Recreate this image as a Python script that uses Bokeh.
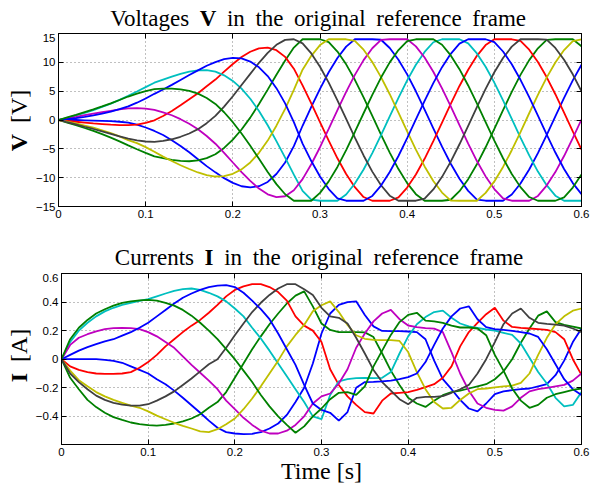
from bokeh.plotting import figure
from bokeh.models import LinearAxis, FixedTicker, Range1d, Div
from bokeh.layouts import column, row
from bokeh.embed import file_html
from bokeh.resources import INLINE

# ---------------- data ----------------
t_s = [0.00, 0.01, 0.02, 0.03, 0.04, 0.05, 0.06, 0.07, 0.08, 0.09,
       0.10, 0.11, 0.12, 0.13, 0.14, 0.15, 0.16, 0.17, 0.18, 0.19,
       0.20, 0.21, 0.22, 0.23, 0.24, 0.25, 0.26, 0.27, 0.28, 0.29,
       0.30, 0.31, 0.32, 0.33, 0.34, 0.35, 0.36, 0.37, 0.38, 0.39,
       0.40, 0.41, 0.42, 0.43, 0.44, 0.45, 0.46, 0.47, 0.48, 0.49,
       0.50, 0.51, 0.52, 0.53, 0.54, 0.55, 0.56, 0.57, 0.58, 0.59, 0.60]

# Voltages [V], one list per phase
v_blue_b = [0, 0.00, 0.00, -0.05, -0.10, -0.15, -0.20, -0.30, -0.45, -0.80, -1.30, -1.90, -2.60, -3.50, -4.50, -5.60, -6.80, -8.00, -9.08, -10.08, -10.90, -11.49, -11.69, -11.48, -10.74, -9.37, -7.37, -4.54, -1.00, 2.26, 5.40, 8.28, 10.76, 12.72, 14, 14, 14, 13.92, 12.49, 10.45, 7.91, 4.98, 1.81, -1.44, -4.63, -7.59, -10.19, -12.29, -13.79, -14, -14, -14, -12.91, -11.02, -8.59, -5.75, -2.63, 0.62, 3.84, 6.87, 9.57]
v_green_b = [0, -0.44, -0.89, -1.39, -1.89, -2.45, -3.05, -3.70, -4.40, -5.07, -5.71, -6.30, -6.62, -6.91, -7.08, -7.15, -7.01, -6.62, -5.94, -4.84, -3.40, -1.65, 0.41, 2.76, 5.27, 7.86, 10.33, 12.56, 14, 14, 14, 13.52, 11.87, 9.65, 6.97, 3.94, 0.73, -2.52, -5.65, -8.51, -10.95, -12.86, -14, -14, -14, -13.83, -12.34, -10.26, -7.68, -4.73, -1.55, 1.71, 4.88, 7.82, 10.38, 12.43, 13.89, 14, 14, 14, 12.78]
v_red = [0, -0.15, -0.30, -0.45, -0.60, -0.70, -0.80, -0.88, -0.90, -0.80, -0.50, -0.05, 0.70, 1.55, 2.55, 3.60, 4.65, 5.85, 7.01, 8.39, 9.71, 10.92, 11.84, 12.43, 12.56, 12.11, 10.95, 8.90, 5.99, 2.88, -0.36, -3.59, -6.64, -9.37, -11.65, -13.36, -14, -14, -14, -13.41, -11.71, -9.45, -6.73, -3.68, -0.46, 2.79, 5.90, 8.72, 11.13, 12.99, 14, 14, 14, 13.73, 12.19, 10.06, 7.45, 4.47, 1.28, -1.98, -5.13]
v_cyan = [0, 0.39, 0.79, 1.25, 1.72, 2.25, 2.84, 3.49, 4.20, 4.95, 5.71, 6.47, 7.00, 7.53, 8.01, 8.39, 8.60, 8.63, 8.38, 7.75, 6.78, 5.44, 3.69, 1.56, -0.91, -3.66, -6.52, -9.48, -12.29, -13.80, -14, -14, -14, -12.91, -11.02, -8.59, -5.74, -2.62, 0.63, 3.85, 6.88, 9.57, 11.81, 13.48, 14, 14, 14, 13.29, 11.54, 9.24, 6.49, 3.42, 0.19, -3.05, -6.14, -8.94, -11.30, -13.12, -14, -14, -14]
v_magenta = [0, 0.28, 0.55, 0.83, 1.09, 1.35, 1.59, 1.83, 2.03, 2.07, 1.98, 1.76, 1.33, 0.82, 0.14, -0.65, -1.59, -2.78, -4.11, -5.70, -7.37, -9.03, -10.56, -11.89, -12.89, -13.38, -13.22, -12.19, -10.25, -7.67, -4.72, -1.54, 1.72, 4.89, 7.82, 10.38, 12.44, 13.89, 14, 14, 14, 12.77, 10.83, 8.36, 5.49, 2.35, -0.90, -4.11, -7.12, -9.78, -11.97, -13.59, -14, -14, -14, -13.17, -11.37, -9.03, -6.25, -3.16, 0.08]
v_yellow = [0, -0.30, -0.60, -0.96, -1.34, -1.78, -2.28, -2.85, -3.49, -4.00, -4.70, -5.50, -6.35, -7.10, -7.85, -8.50, -9.10, -9.55, -9.80, -9.73, -9.33, -8.57, -7.36, -5.69, -3.57, -0.99, 1.93, 5.24, 8.72, 11.13, 12.99, 14, 14, 14, 13.73, 12.19, 10.06, 7.44, 4.47, 1.27, -1.98, -5.14, -8.05, -10.57, -12.58, -13.98, -14, -14, -14, -12.64, -10.65, -8.14, -5.24, -2.09, 1.17, 4.36, 7.35, 9.98, 12.13, 13.69, 14]
v_gray = [0, -0.39, -0.76, -1.17, -1.56, -1.96, -2.39, -2.82, -3.24, -3.54, -3.73, -3.79, -3.61, -3.34, -2.91, -2.34, -1.59, -0.55, 0.71, 2.32, 4.12, 6.06, 8.00, 9.92, 11.64, 13.04, 13.89, 14, 13.29, 11.54, 9.24, 6.48, 3.41, 0.18, -3.06, -6.15, -8.95, -11.31, -13.12, -14, -14, -14, -13.63, -12.04, -9.86, -7.21, -4.21, -1.00, 2.25, 5.39, 8.28, 10.76, 12.72, 14, 14, 14, 13.93, 12.50, 10.46, 7.92, 4.99]
v_blue_a = [0, 0.16, 0.34, 0.56, 0.80, 1.10, 1.46, 1.87, 2.36, 3.00, 3.73, 4.54, 5.28, 6.09, 6.95, 7.80, 8.60, 9.40, 10.04, 10.54, 10.77, 10.67, 10.14, 9.14, 7.62, 5.52, 2.89, -0.37, -4.11, -7.12, -9.79, -11.98, -13.59, -14, -14, -14, -13.17, -11.37, -9.02, -6.24, -3.15, 0.09, 3.32, 6.39, 9.16, 11.48, 13.24, 14, 14, 14, 13.52, 11.88, 9.66, 6.97, 3.95, 0.74, -2.51, -5.64, -8.50, -10.94, -12.86]
v_green_a = [0, 0.44, 0.88, 1.36, 1.84, 2.35, 2.89, 3.47, 4.07, 4.58, 5.02, 5.37, 5.44, 5.45, 5.32, 5.05, 4.58, 3.82, 2.78, 1.34, -0.38, -2.35, -4.48, -6.74, -9.00, -11.12, -12.88, -14, -14, -14, -12.63, -10.64, -8.14, -5.23, -2.08, 1.17, 4.37, 7.36, 9.99, 12.13, 13.69, 14, 14, 14, 13.04, 11.20, 8.81, 5.99, 2.89, -0.35, -3.58, -6.63, -9.37, -11.64, -13.36, -14, -14, -14, -13.41, -11.72, -9.45]

# Currents [A], one list per phase
i_blue_b = [0, 0.0, 0.0, 0.0, 0.0, -0.005, -0.012, -0.025, -0.05, -0.075, -0.10, -0.14, -0.175, -0.22, -0.27, -0.322, -0.375, -0.43, -0.48, -0.51, -0.52, -0.525, -0.522, -0.51, -0.485, -0.45, -0.39, -0.30, -0.20, -0.03, 0.18, 0.32, 0.38, 0.40, 0.405, 0.31, 0.23, 0.198, 0.196, 0.196, 0.194, 0.19, 0.14, -0.01, -0.14, -0.21, -0.285, -0.345, -0.365, -0.31, -0.245, -0.225, -0.217, -0.21, -0.205, -0.19, -0.175, -0.112, -0.01, 0.12, 0.215]
i_green_b = [0, -0.13, -0.21, -0.285, -0.335, -0.375, -0.405, -0.425, -0.443, -0.455, -0.462, -0.465, -0.46, -0.45, -0.435, -0.415, -0.385, -0.34, -0.30, -0.23, -0.13, -0.03, 0.07, 0.16, 0.245, 0.32, 0.39, 0.445, 0.475, 0.37, 0.25, 0.205, 0.19, 0.19, 0.19, 0.188, 0.155, 0.04, -0.08, -0.18, -0.27, -0.31, -0.334, -0.29, -0.252, -0.23, -0.22, -0.205, -0.19, -0.175, -0.14, -0.085, 0.00, 0.115, 0.215, 0.305, 0.335, 0.26, 0.24, 0.228, 0.215]
i_red = [0, -0.05, -0.075, -0.09, -0.10, -0.103, -0.103, -0.10, -0.09, -0.06, -0.02, 0.03, 0.09, 0.14, 0.19, 0.235, 0.275, 0.325, 0.38, 0.44, 0.485, 0.51, 0.525, 0.525, 0.505, 0.47, 0.41, 0.30, 0.235, 0.20, 0.12, -0.07, -0.18, -0.26, -0.32, -0.37, -0.38, -0.29, -0.24, -0.235, -0.23, -0.215, -0.195, -0.175, -0.13, -0.05, 0.09, 0.19, 0.255, 0.315, 0.36, 0.27, 0.226, 0.22, 0.215, 0.21, 0.205, 0.19, 0.14, 0.0, -0.11]
i_cyan = [0, 0.12, 0.20, 0.255, 0.30, 0.335, 0.36, 0.38, 0.395, 0.408, 0.42, 0.44, 0.46, 0.478, 0.49, 0.495, 0.485, 0.465, 0.44, 0.405, 0.355, 0.30, 0.22, 0.145, 0.06, -0.03, -0.12, -0.21, -0.30, -0.40, -0.42, -0.25, -0.155, -0.14, -0.132, -0.13, -0.132, -0.13, -0.09, 0.04, 0.16, 0.245, 0.295, 0.33, 0.34, 0.29, 0.25, 0.23, 0.22, 0.208, 0.20, 0.185, 0.17, 0.11, 0.01, -0.09, -0.17, -0.27, -0.33, -0.32, -0.23]
i_magenta = [0, 0.10, 0.15, 0.175, 0.195, 0.21, 0.218, 0.22, 0.218, 0.21, 0.19, 0.16, 0.12, 0.08, 0.02, -0.04, -0.095, -0.15, -0.21, -0.29, -0.35, -0.41, -0.46, -0.50, -0.52, -0.52, -0.50, -0.46, -0.40, -0.31, -0.26, -0.24, -0.17, -0.07, 0.08, 0.18, 0.265, 0.32, 0.345, 0.28, 0.236, 0.225, 0.218, 0.214, 0.19, 0.05, -0.10, -0.22, -0.31, -0.34, -0.355, -0.36, -0.33, -0.27, -0.225, -0.21, -0.20, -0.19, -0.18, -0.15, -0.10]
i_yellow = [0, -0.08, -0.147, -0.19, -0.23, -0.26, -0.285, -0.305, -0.325, -0.34, -0.365, -0.395, -0.42, -0.445, -0.467, -0.485, -0.505, -0.51, -0.49, -0.455, -0.415, -0.35, -0.275, -0.19, -0.10, -0.01, 0.09, 0.17, 0.24, 0.335, 0.378, 0.405, 0.33, 0.24, 0.168, 0.143, 0.135, 0.133, 0.133, 0.128, 0.05, -0.09, -0.21, -0.30, -0.345, -0.34, -0.285, -0.24, -0.21, -0.205, -0.197, -0.19, -0.185, -0.165, -0.10, 0.03, 0.15, 0.245, 0.30, 0.34, 0.355]
i_gray = [0, -0.10, -0.16, -0.21, -0.255, -0.285, -0.305, -0.318, -0.325, -0.325, -0.315, -0.29, -0.26, -0.225, -0.18, -0.135, -0.085, -0.035, 0.00, 0.08, 0.168, 0.25, 0.33, 0.395, 0.45, 0.495, 0.525, 0.525, 0.49, 0.45, 0.36, 0.30, 0.29, 0.25, 0.15, 0.04, -0.075, -0.16, -0.22, -0.28, -0.315, -0.27, -0.264, -0.264, -0.258, -0.235, -0.21, -0.18, -0.10, 0.00, 0.12, 0.245, 0.32, 0.355, 0.29, 0.255, 0.248, 0.242, 0.235, 0.215, 0.19]
i_blue_a = [0, 0.03, 0.06, 0.085, 0.105, 0.125, 0.14, 0.165, 0.19, 0.22, 0.255, 0.30, 0.345, 0.39, 0.43, 0.46, 0.485, 0.505, 0.515, 0.518, 0.505, 0.465, 0.41, 0.35, 0.28, 0.18, 0.07, -0.04, -0.18, -0.31, -0.355, -0.375, -0.43, -0.37, -0.20, -0.16, -0.158, -0.155, -0.15, -0.14, -0.125, -0.10, -0.02, 0.10, 0.215, 0.30, 0.355, 0.37, 0.28, 0.225, 0.21, 0.205, 0.198, 0.19, 0.18, 0.156, 0.07, -0.035, -0.14, -0.21, -0.25]
i_green_a = [0, 0.14, 0.22, 0.275, 0.32, 0.35, 0.375, 0.395, 0.405, 0.412, 0.415, 0.41, 0.395, 0.375, 0.345, 0.305, 0.255, 0.20, 0.14, 0.07, 0.00, -0.08, -0.16, -0.25, -0.33, -0.40, -0.46, -0.515, -0.47, -0.40, -0.345, -0.28, -0.235, -0.23, -0.25, -0.19, -0.05, 0.06, 0.17, 0.26, 0.31, 0.325, 0.27, 0.265, 0.255, 0.235, 0.222, 0.222, 0.215, 0.168, 0.03, -0.08, -0.205, -0.29, -0.34, -0.32, -0.27, -0.245, -0.23, -0.215, -0.205]

x_ticks = [0, 0.1, 0.2, 0.3, 0.4, 0.5, 0.6]
x_tick_labels = ["0", "0.1", "0.2", "0.3", "0.4", "0.5", "0.6"]
v_ticks = [-15, -10, -5, 0, 5, 10, 15]
v_tick_labels = ["\u221215", "\u221210", "\u22125", "0", "5", "10", "15"]
i_ticks = [-0.4, -0.2, 0, 0.2, 0.4, 0.6]
i_tick_labels = ["\u22120.4", "\u22120.2", "0", "0.2", "0.4", "0.6"]

# MATLAB default colour order; lines drawn in column order 1..9
C_BLUE, C_GREEN, C_RED = "#0000ff", "#008000", "#ff0000"
C_CYAN, C_MAGENTA, C_YELLOW, C_GRAY = "#00bfbf", "#bf00bf", "#bfbf00", "#404040"

SERIF = "Liberation Serif"
SANS = "Liberation Sans"

# ---------------- page geometry (px; Bokeh's page has no body margin) ----------------
FULL_W = 597
YLAB_W = 32          # strip holding the rotated y label
P_W = FULL_W - YLAB_W
FRAME_L, FRAME_R = 58, 581
F1_TOP, F1_BOT, P1_BOT = 33, 206, 224
F2_TOP, F2_BOT, PAGE_BOT = 273, 444, 487


def make_plot(top, frame_bot, bot, y0, y1, yticks, ylabels):
    p = figure(width=P_W, height=bot - top, title=None,
               x_range=Range1d(0, 0.6), y_range=Range1d(y0, y1),
               output_backend="svg", toolbar_location=None,
               min_border_left=FRAME_L - YLAB_W, min_border_right=FULL_W - FRAME_R,
               min_border_top=0, min_border_bottom=bot - frame_bot)
    p.background_fill_color = "white"
    p.border_fill_color = "white"
    p.outline_line_color = "black"
    p.outline_line_width = 1

    for ax, ticks, labels in ((p.below[0], x_ticks, x_tick_labels),
                              (p.left[0], yticks, ylabels)):
        ax.ticker = FixedTicker(ticks=ticks)
        ax.major_label_overrides = dict(zip(ticks, labels))
        ax.major_tick_in = 5
        ax.major_tick_out = 0
        ax.minor_tick_line_color = None
        ax.axis_line_color = "black"
        ax.major_label_text_font = SANS
        ax.major_label_text_font_size = "11.5px"
        ax.major_label_text_color = "black"
        ax.major_label_standoff = 3

    # box ticks on the top and right edges (no labels there)
    for side, ticks in (("above", x_ticks), ("right", yticks)):
        ax = LinearAxis(ticker=FixedTicker(ticks=ticks),
                        major_label_text_font_size="0px",
                        major_label_text_alpha=0,
                        major_label_text_color=None,
                        major_label_standoff=0,
                        major_tick_in=5, major_tick_out=0,
                        minor_tick_line_color=None,
                        axis_line_color="black")
        p.add_layout(ax, side)

    p.xgrid.ticker = FixedTicker(ticks=x_ticks)
    p.ygrid.ticker = FixedTicker(ticks=yticks)
    for g in (p.xgrid, p.ygrid):
        g.grid_line_color = "#808080"
        g.grid_line_dash = "1 3"
        g.grid_line_width = 1
    return p


def title_div(height, left, top, normal1, bold, normal2):
    html = (
        f'<div style="position:relative;width:{FULL_W}px;height:{height}px;margin:0;padding:0;">'
        f'<div style="position:absolute;left:{left}px;top:{top}px;margin:0;padding:0;'
        f"font-family:'{SERIF}';font-size:23px;line-height:23px;font-weight:normal;"
        f'white-space:nowrap;word-spacing:4.85px;color:#000;">'
        f'{normal1} <b>{bold}</b> {normal2}</div></div>'
    )
    return Div(text=html, width=FULL_W, height=height, margin=0)


def ylabel_div(height, px, py, bold, rest):
    html = (
        f'<div style="position:relative;width:{YLAB_W}px;height:{height}px;margin:0;padding:0;">'
        f'<div style="position:absolute;left:0;top:0;margin:0;padding:0;'
        f'transform-origin:0 0;transform:translate({px}px,{py}px) rotate(-90deg);'
        f"font-family:'{SERIF}';font-size:24px;line-height:24px;font-weight:normal;"
        f'white-space:nowrap;word-spacing:5px;color:#000;">'
        f'<b>{bold}</b> {rest}</div></div>'
    )
    return Div(text=html, width=YLAB_W, height=height, margin=0)


def draw(p, series):
    for ys, col in series:
        p.line(t_s, ys, line_color=col, line_width=1.8)


# ---------------- voltages ----------------
t1 = title_div(F1_TOP, 110.3, 6.7, "Voltages", "V", "in the original reference frame")
yl1 = ylabel_div(P1_BOT - F1_TOP, 6.6, 151.3 - F1_TOP, "V", "[V]")

p1 = make_plot(F1_TOP, F1_BOT, P1_BOT, -15, 15, v_ticks, v_tick_labels)
draw(p1, [(v_blue_b, C_BLUE), (v_green_b, C_GREEN), (v_red, C_RED),
          (v_cyan, C_CYAN), (v_magenta, C_MAGENTA), (v_yellow, C_YELLOW),
          (v_gray, C_GRAY), (v_blue_a, C_BLUE), (v_green_a, C_GREEN)])

# ---------------- currents ----------------
t2 = title_div(F2_TOP - P1_BOT, 114.8, 265.0 - P1_BOT - 19.3, "Currents", "I",
               "in the original reference frame")
yl2 = ylabel_div(PAGE_BOT - F2_TOP, 6.6, 382.3 - F2_TOP, "I", "[A]")

p2 = make_plot(F2_TOP, F2_BOT, PAGE_BOT, -0.597, 0.6, i_ticks, i_tick_labels)
xa = p2.below[0]
xa.axis_label = "Time [s]"
xa.axis_label_text_font = SERIF
xa.axis_label_text_font_size = "24px"
xa.axis_label_text_font_style = "normal"
xa.axis_label_text_color = "black"
xa.axis_label_standoff = -1
draw(p2, [(i_blue_b, C_BLUE), (i_green_b, C_GREEN), (i_red, C_RED),
          (i_cyan, C_CYAN), (i_magenta, C_MAGENTA), (i_yellow, C_YELLOW),
          (i_gray, C_GRAY), (i_blue_a, C_BLUE), (i_green_a, C_GREEN)])

layout = column(t1, row(yl1, p1), t2, row(yl2, p2))
open("out.html", "w").write(file_html(layout, INLINE))
